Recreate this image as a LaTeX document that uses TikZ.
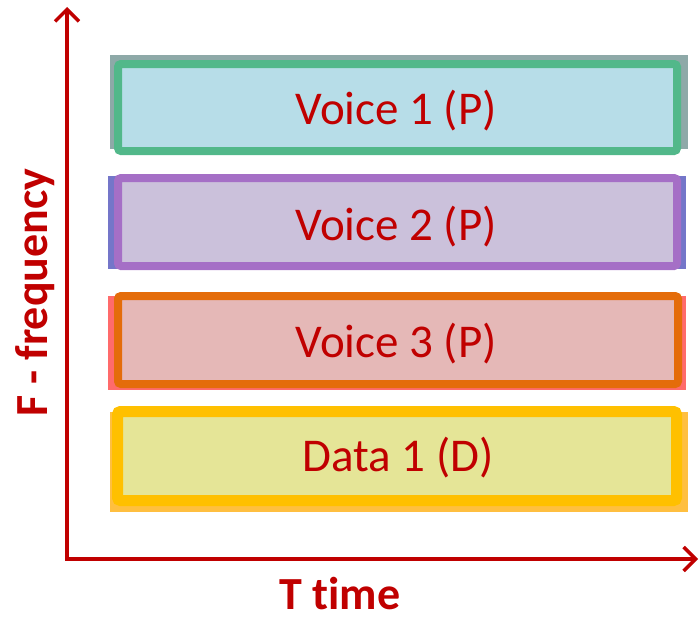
\documentclass[tikz,border=0pt]{standalone}
\usepackage{fontspec}
\setmainfont{Carlito}[Ligatures=NoCommon]
\usetikzlibrary{arrows.meta}
\definecolor{axred}{HTML}{C00000}
\definecolor{bkA}{HTML}{8EA9A8}\definecolor{bdA}{HTML}{52B88A}\definecolor{flA}{HTML}{B7DDE8}
\definecolor{bkB}{HTML}{7476C9}\definecolor{bdB}{HTML}{A56FC6}\definecolor{flB}{HTML}{CBC1DB}
\definecolor{bkC}{HTML}{FF6B6B}\definecolor{bdC}{HTML}{E46C0A}\definecolor{flC}{HTML}{E5B8B7}
\definecolor{bkD}{HTML}{FFBF40}\definecolor{bdD}{HTML}{FFC000}\definecolor{flD}{HTML}{E5E597}
\tikzset{
  axis/.style={draw=axred, line width=3.5pt, {Straight Barb[length=12pt,width=24pt,line width=3.5pt]}-{Straight Barb[length=12pt,width=24pt,line width=3.5pt]}},
  front/.style={rounded corners=3pt},
  bandtext/.style={anchor=base, text=axred, font=\fontsize{47}{50}\selectfont, inner sep=0pt},
  axlabel/.style={anchor=base, text=axred, font=\fontsize{46}{50}\selectfont\bfseries, inner sep=0pt}
}
\begin{document}
\begin{tikzpicture}[x=1pt,y=-1pt]
\useasboundingbox (0,0) rectangle (700,618);
% band 1
\fill[bkA] (110,55) rectangle (688,149);
\draw[front, draw=bdA, fill=flA, line width=8pt] (118,64) rectangle (677,151);
\node[bandtext] (v1) at (396,124.3) {Voice 1 (P)};
% band 2
\fill[bkB] (108,176) rectangle (686,269);
\draw[front, draw=bdB, fill=flB, line width=8pt] (118,178) rectangle (677,266);
\node[bandtext] (v2) at (396,240.5) {Voice 2 (P)};
% band 3
\fill[bkC] (108,296) rectangle (686,390);
\draw[front, draw=bdC, fill=flC, line width=8pt] (118,296) rectangle (678,384);
\node[bandtext] (v3) at (396,357) {Voice 3 (P)};
% band 4
\fill[bkD] (110,412) rectangle (688,512);
\draw[front, draw=bdD, fill=flD, line width=11pt] (117.5,411.5) rectangle (676.5,500.5);
\node[bandtext] (d1) at (398,471.7) {Data 1 (D)};
% axes
\coordinate (ytip) at (67,7);
\coordinate (o) at (67,559);
\coordinate (xtip) at (698,559);
\draw[axis] (ytip) -- (o) -- (xtip);
\node[axlabel, rotate=90] (fl) at (47,292.5) {F - frequency};
\node[axlabel] (tl) at (340,609) {T time};
\end{tikzpicture}
\end{document}
